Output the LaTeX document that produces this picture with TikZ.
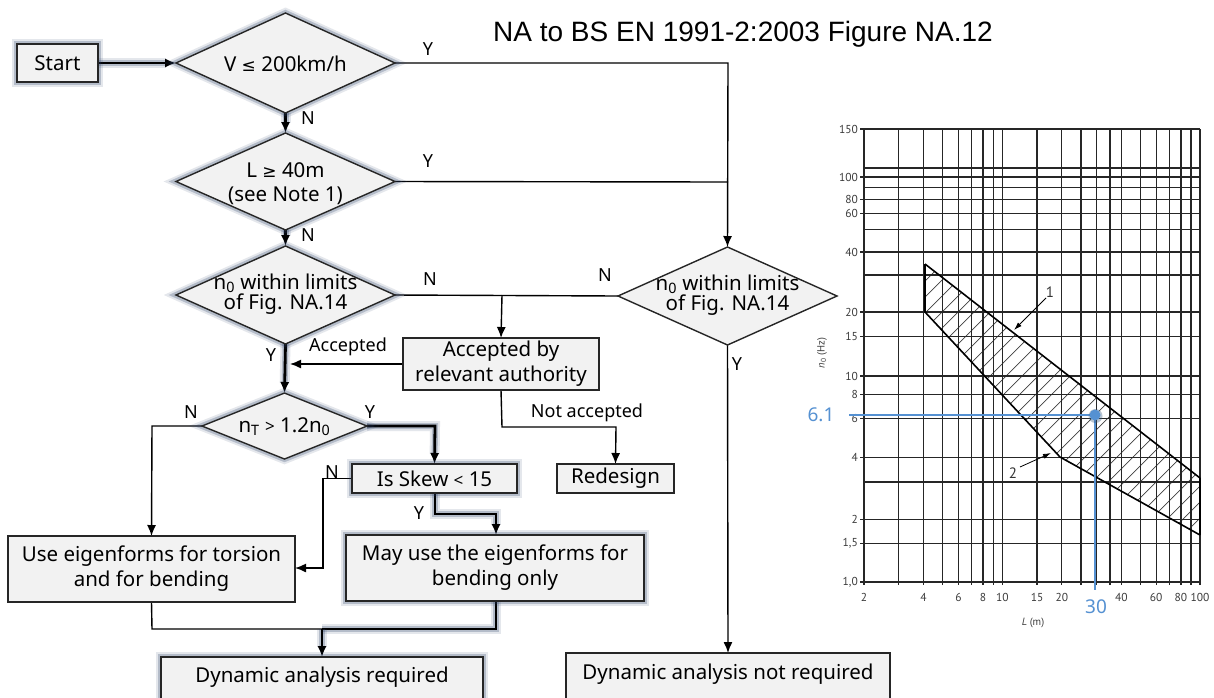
\documentclass[tikz,border=0pt]{standalone}
\usepackage{fontspec}
\setmainfont{Noto Sans}
\newfontfamily\titlefont{Liberation Sans}
\newfontfamily\symfont{DejaVu Sans}
\newfontfamily\chartfont{PT Sans}
\usetikzlibrary{shapes.geometric,arrows.meta}
\definecolor{boxfill}{RGB}{242,242,242}
\definecolor{glowc}{RGB}{40,60,100}
\definecolor{chblue}{RGB}{85,145,210}
\definecolor{axgray}{RGB}{60,60,60}
\pgfdeclarelayer{bg}
\pgfsetlayers{bg,main}
\begin{document}
\begin{tikzpicture}[x=1pt,y=-1pt,
  glow/.style={preaction={draw=glowc,line width=10pt,draw opacity=0.12},
               preaction={draw=glowc,line width=6pt,draw opacity=0.25}},
  box/.style={draw=black!85,line width=1.4pt,fill=boxfill,inner sep=0pt,outer sep=0pt,
              font=\fontsize{20.5}{25}\selectfont,align=center},
  dia/.style={diamond,draw=black!85,line width=1.4pt,fill=boxfill,inner sep=0pt,outer sep=0pt},
  dtext/.style={font=\fontsize{20.5}{19}\selectfont,align=center,inner sep=0pt},
  lbl/.style={font=\fontsize{18}{20}\selectfont,inner sep=0pt},
  conn/.style={line width=1.4pt,draw=black},
  tconn/.style={line width=2.8pt,draw=black,glow},
  arr/.style={-{Latex[length=11pt,width=9pt]}},
  grid/.style={line width=1.3pt,draw=black!85},
  ylab/.style={anchor=east,font=\chartfont\fontsize{11.5}{12}\selectfont,text=axgray,inner sep=0pt},
  xlab/.style={font=\chartfont\fontsize{11.5}{12}\selectfont,text=axgray,inner sep=0pt},
  bluelab/.style={font=\bfseries\fontsize{19}{20}\selectfont,text=chblue,inner sep=0pt}
]
\useasboundingbox (0,0) rectangle (1214,697);
\begin{pgfonlayer}{bg}
\fill[white] (0,0) rectangle (1214,697);
\end{pgfonlayer}

% title
\node[anchor=base west,font=\titlefont\fontsize{28}{30}\selectfont,inner sep=0pt] (title) at (493,41) {NA to BS EN 1991-2:2003 Figure NA.12};

% ---------- flowchart nodes ----------
\node[box,glow,minimum width=81pt,minimum height=38pt] (start) at (57.5,63) {Start};
\node[dia,glow,minimum width=219pt,minimum height=100pt] (d1) at (285.5,63) {};
\node[dtext] (d1t) at (285.5,64) {V {\symfont\fontsize{17}{19}\selectfont ≤} 200km/h};
\node[dia,glow,minimum width=219pt,minimum height=97pt] (d2) at (285.5,181.5) {};
\node[dtext,font=\fontsize{20.5}{24}\selectfont] (d2t) at (285.5,184) {L {\symfont\fontsize{17}{19}\selectfont ≥} 40m\\(see Note 1)};
\node[dia,glow,minimum width=219pt,minimum height=98pt] (d3) at (285.5,295) {};
\node[dtext] (d3t) at (285.5,294) {n\textsubscript{0} within limits\\of Fig. NA.14};
\node[dia,glow,minimum width=165pt,minimum height=66pt] (d4) at (284.5,426) {};
\node[dtext] (d4t) at (284.5,427) {n\textsubscript{T} {\fontsize{17}{19}\selectfont >} 1.2n\textsubscript{0}};
\node[dia,minimum width=219pt,minimum height=98pt] (d5) at (727.5,296) {};
\node[dtext] (d5t) at (727.5,295) {n\textsubscript{0} within limits\\of Fig. NA.14};

\node[box,minimum width=196pt,minimum height=52pt] (acc) at (501,364) {Accepted by\\relevant authority};
\node[box,minimum width=117pt,minimum height=29pt] (redesign) at (615.5,478.5) {Redesign};
\node[box,glow,minimum width=165pt,minimum height=29pt] (skew) at (434.5,478.5) {Is Skew {\fontsize{17}{19}\selectfont <} 15};
\node[box,minimum width=287pt,minimum height=66pt] (useeig) at (151.5,569) {Use eigenforms for torsion\\and for bending};
\node[box,glow,minimum width=298pt,minimum height=66pt] (mayuse) at (495,568) {May use the eigenforms for\\bending only};
\node[box,glow,minimum width=322pt,minimum height=46pt] (dyn) at (322,680) {};
\node[font=\fontsize{20.5}{25}\selectfont] at (322,677) {Dynamic analysis required};
\node[box,minimum width=324pt,minimum height=46pt] (dynnot) at (728,676) {};
\node[font=\fontsize{20.5}{25}\selectfont] at (728,674) {Dynamic analysis not required};

\coordinate (c1) at (728,63);
\coordinate (c2) at (728,182);
\coordinate (c3) at (502,295);
\coordinate (c4) at (290,364);
\coordinate (c5a) at (502,427);
\coordinate (c5b) at (616,427);
\coordinate (c6) at (435,426);
\coordinate (c7) at (152,426);
\coordinate (c8a) at (323,478.5);
\coordinate (c8b) at (323,568);
\coordinate (c9a) at (435,514);
\coordinate (c9b) at (496,514);
\coordinate (c10a) at (152,629);
\coordinate (c10b) at (322,629);
\coordinate (c10c) at (496,629);

\begin{pgfonlayer}{bg}
\draw[tconn,arr] (start.east) -- (d1.west);
\draw[tconn,arr] (d1.south) -- (d2.north);
\draw[tconn,arr] (d2.south) -- (d3.north);
\draw[tconn,arr] (d3.south) -- (d4.north);
\draw[conn,arr] (d1.east) -- (c1) -- (d5.north);
\draw[conn] (d2.east) -- (c2);
\draw[conn] (d3.east) -- (d5.west);
\draw[conn,arr] (c3) -- (acc.north);
\draw[conn,arr] (acc.west |- c4) -- (c4);
\draw[conn,arr] (acc.south) -- (c5a) -- (c5b) -- (redesign.north);
\draw[tconn,arr] (d4.east) -- (c6) -- (skew.north);
\draw[conn,arr] (d4.west) -- (c7) -- (useeig.north);
\draw[conn,arr] (skew.west) -- (c8a) -- (c8b) -- (useeig.east |- c8b);
\draw[tconn,arr] (skew.south -| c9a) -- (c9a) -- (c9b) -- (mayuse.north -| c9b);
\draw[conn] (useeig.south) -- (c10a) -- (c10b);
\draw[tconn] (mayuse.south -| c10c) -- (c10c) -- (c10b);
\draw[tconn,arr] (c10b) -- (dyn.north);
\draw[conn,arr] (d5.south) -- (dynnot.north);
\end{pgfonlayer}

% labels
\node[lbl] at (428,49) {Y};
\node[lbl] at (428,161) {Y};
\node[lbl] at (308,118) {N};
\node[lbl] at (308,235) {N};
\node[lbl] at (430,279) {N};
\node[lbl] at (605,275) {N};
\node[lbl] at (737,364) {Y};
\node[lbl] at (348,347) {Accepted};
\node[lbl] at (271,355) {Y};
\node[lbl] at (191,412) {N};
\node[lbl] at (370,412) {Y};
\node[lbl] at (332,472) {N};
\node[lbl] at (419,513) {Y};
\node[lbl] at (587,413) {Not accepted};

% ---------- chart ----------
% hatched band
\begin{scope}
\clip (925,264) -- (1200,478) -- (1200,535) -- (1060,457) -- (925,312) -- cycle;
\foreach \c in {1190,1206,...,1745} {
  \draw[line width=0.7pt,black!75] ({\c-600},600) -- ({\c-200},200);
}
\end{scope}
% vertical grid
\foreach \v in {2,3,4,5,6,7,8,9,10,15,20,25,30,35,40,50,60,70,80,90,100} {
  \draw[grid] ({864+85.904*ln(\v/2)},129) -- ({864+85.904*ln(\v/2)},585);
}
% horizontal grid
\foreach \yy in {168,187.5,229.5,275,482} {
  \draw[grid] (864,\yy) -- (1200,\yy);
}
\foreach \yy/\lab in {129/150,177/100,199.5/80,213.5/60,252/40,312/20,336.5/15,376/10,394.5/8,418.5/6,457.5/4,519.5/2,543.5/{1,5},582/{1,0}} {
  \draw[grid] (860,\yy) -- (1200,\yy);
  \node[ylab] at (858,\yy) {\lab};
}
\foreach \v in {2,4,6,8,10,15,20,40,60,80,100} {
  \node[xlab] at ({864+85.904*ln(\v/2)},597) {\v};
}
% band outline
\draw[line width=1.6pt,black] (925,264) -- (1200,478) (1200,478) -- (1200,535) (925,264) -- (925,312) -- (1060,457) -- (1200,535);
% leaders
\draw[line width=0.8pt,-{Latex[length=8pt,width=5pt]}] (1046,298) -- (1014,330);
\node[font=\chartfont\fontsize{15}{16}\selectfont,text=black!80,inner sep=0pt] at (1050,292) {1};
\draw[line width=0.8pt,-{Latex[length=8pt,width=5pt]}] (1020,467) -- (1051,453);
\node[font=\chartfont\fontsize{15}{16}\selectfont,text=black!80,inner sep=0pt] at (1013,473) {2};
% axis titles
\node[font=\chartfont\fontsize{10.5}{12}\selectfont,text=axgray,rotate=90,inner sep=0pt] at (822,353) {\textit{n}\textsubscript{0} (Hz)};
\node[font=\chartfont\fontsize{10.5}{12}\selectfont,text=axgray,inner sep=0pt] at (1033,623) {\textit{L} (m)};
% blue reading
\draw[chblue,line width=2.6pt] (849,415) -- (1095,415) -- (1095,590);
\fill[chblue!60!black,opacity=0.35] (1095.5,416) circle (7);
\fill[chblue] (1095,415) circle (5.5);
\node[bluelab] at (821,415) {6.1};
\node[bluelab] at (1096,607) {30};
\end{tikzpicture}
\end{document}
